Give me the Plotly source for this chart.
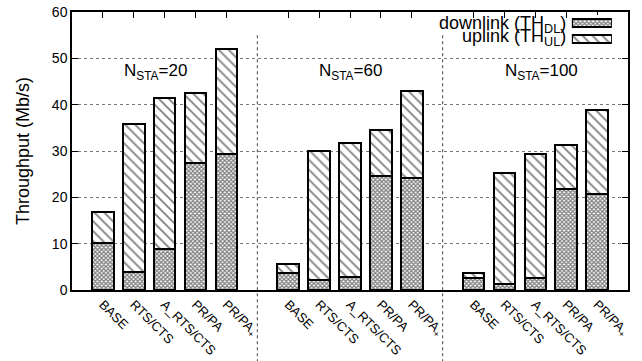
import plotly.graph_objects as go

categories = ["BASE", "RTS/CTS", "A_RTS/CTS", "PR/PA", "PR/PA<sub>+</sub>"]
groups = ["20", "60", "100"]
downlink = [
    [10.1, 3.9, 8.8, 27.5, 29.4],
    [3.6, 2.2, 2.8, 24.5, 24.1],
    [2.5, 1.4, 2.6, 21.7, 20.8],
]
uplink = [
    [6.7, 31.9, 32.6, 15.1, 22.6],
    [2.0, 27.9, 29.0, 10.0, 18.9],
    [1.2, 23.9, 26.7, 9.6, 18.0],
]
y_ticks = [0, 10, 20, 30, 40, 50, 60]
label_x = [1.7, 8.0, 14.2]

FONT = "Liberation Sans, Arial, sans-serif"
step = len(categories) + 1
xs, dl, ul, ticktext = [], [], [], []
for g in range(len(groups)):
    for i, c in enumerate(categories):
        xs.append(g * step + i)
        dl.append(downlink[g][i])
        ul.append(uplink[g][i])
        ticktext.append(c)
separators = [g * step + len(categories) for g in range(len(groups) - 1)]
xmin, xmax = -1, len(groups) * step - 1

dl_pat = dict(shape="x", size=3, solidity=0.65, fgcolor="black", bgcolor="white")
ul_pat = dict(shape="\\", size=7, solidity=0.25, fgcolor="black", bgcolor="white")

fig = go.Figure()
fig.add_trace(go.Bar(x=xs, y=dl, width=0.7, name="downlink",
                     marker=dict(color="white", pattern=dl_pat, line=dict(color="black", width=2))))
fig.add_trace(go.Bar(x=xs, y=ul, width=0.7, name="uplink",
                     marker=dict(color="white", pattern=ul_pat, line=dict(color="black", width=2))))

# legend swatches on a small overlay axis
fig.add_trace(go.Bar(x=[1], y=["dl"], orientation="h", width=0.5, xaxis="x3", yaxis="y3",
                     marker=dict(color="white", pattern=dl_pat, line=dict(color="black", width=1.5)),
                     showlegend=False, hoverinfo="skip"))
fig.add_trace(go.Bar(x=[1], y=["ul"], orientation="h", width=0.5, xaxis="x3", yaxis="y3",
                     marker=dict(color="white", pattern=ul_pat, line=dict(color="black", width=1.5)),
                     showlegend=False, hoverinfo="skip"))
# invisible trace for top ticks axis
fig.add_trace(go.Scatter(x=[xmin], y=[0], xaxis="x2", mode="markers",
                         marker=dict(opacity=0), showlegend=False, hoverinfo="skip"))

fig.update_layout(
    width=642, height=361,
    margin=dict(l=72, r=14, t=12, b=71, autoexpand=False),
    paper_bgcolor="white", plot_bgcolor="white",
    barmode="stack", showlegend=False,
    font=dict(family=FONT, color="black", size=14),
    xaxis=dict(range=[xmin, xmax], tickvals=xs, ticktext=ticktext, tickangle=45,
               ticks="", showgrid=False, zeroline=False, showline=True, mirror=True,
               linecolor="black", linewidth=1.5, tickfont=dict(size=13), automargin=False),
    xaxis2=dict(range=[xmin, xmax], overlaying="x", side="top", tickvals=xs,
                ticks="inside", ticklen=6, tickcolor="black", tickwidth=1,
                showticklabels=False, showgrid=False, zeroline=False, showline=False,
                automargin=False),
    yaxis=dict(range=[0, 60], tickvals=y_ticks, ticks="inside", ticklen=6, tickcolor="black",
               showline=True, mirror="ticks", linecolor="black", linewidth=1.5,
               showgrid=True, gridcolor="#777", griddash="dot", gridwidth=1, zeroline=False,
               title=dict(text="Throughput (Mb/s)", font=dict(size=18), standoff=18),
               tickfont=dict(size=14), automargin=False),
    xaxis3=dict(domain=[0.899, 0.971], range=[0, 1], visible=False, anchor="y3"),
    yaxis3=dict(domain=[0.874, 0.989], visible=False, anchor="x3",
                categoryorder="array", categoryarray=["ul", "dl"]),
)

# separators between groups
for s in separators:
    fig.add_shape(type="line", xref="x", yref="paper", x0=s, x1=s, y0=-0.26, y1=0.917,
                  line=dict(color="#444", width=1, dash="dot"))
# white legend background
fig.add_shape(type="rect", xref="paper", yref="paper", x0=0.649, x1=0.986, y0=0.82, y1=1.0,
              fillcolor="white", line=dict(width=0), layer="below")

# group labels
for g, n in enumerate(groups):
    fig.add_annotation(x=label_x[g], y=47, xref="x", yref="y",
                       text=f"N<sub>STA</sub>={n}", showarrow=False,
                       font=dict(size=17, family=FONT))

# legend text
fig.add_annotation(x=0.892, y=0.955, xref="paper", yref="paper", xanchor="right",
                   yanchor="middle", text="downlink (TH<sub>DL</sub>)", showarrow=False,
                   font=dict(size=18))
fig.add_annotation(x=0.892, y=0.908, xref="paper", yref="paper", xanchor="right",
                   yanchor="middle", text="uplink (TH<sub>UL</sub>)", showarrow=False,
                   font=dict(size=18))

fig.write_html("out.html", config=dict(displayModeBar=False))
